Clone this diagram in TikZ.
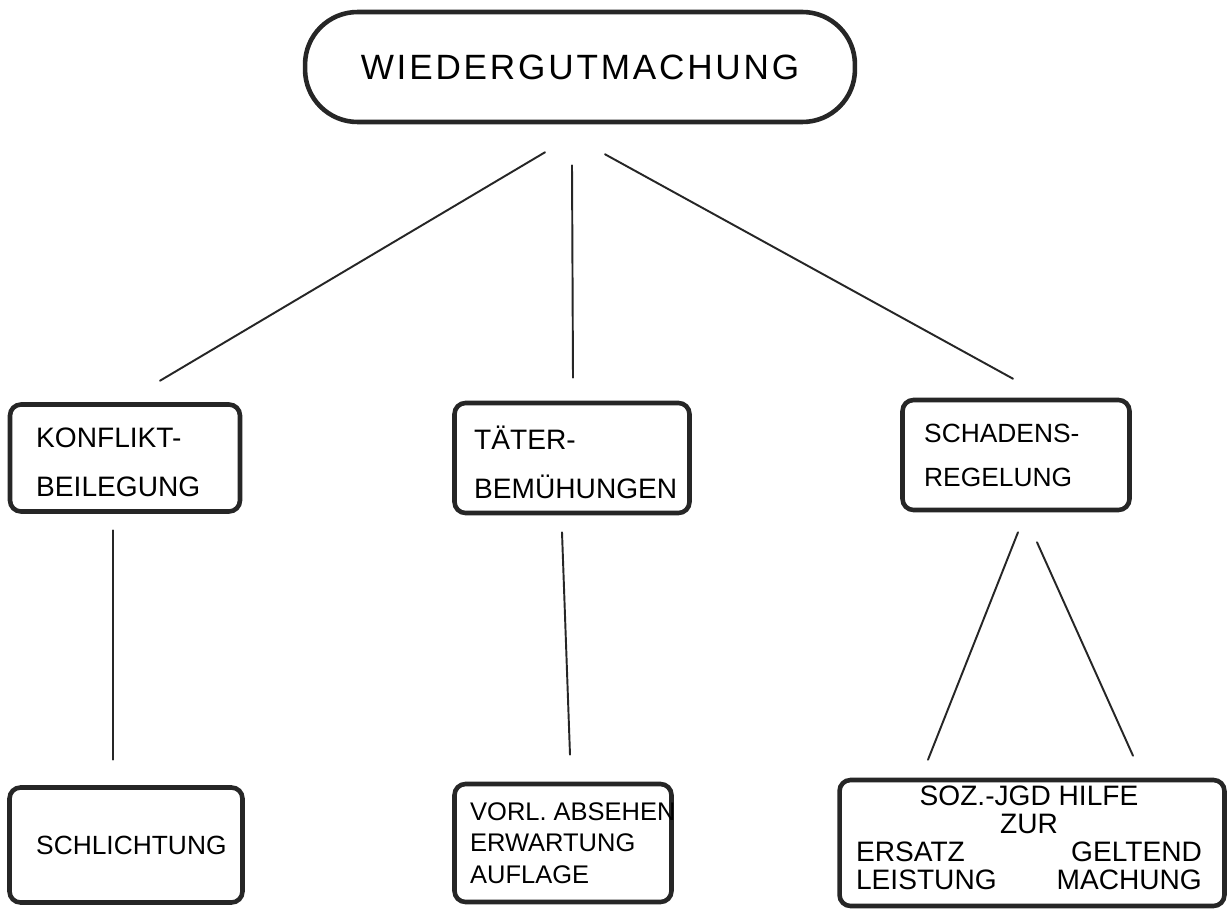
\documentclass[tikz,border=0pt]{standalone}
\usepackage{fontspec}
\setmainfont{Liberation Sans}
\usetikzlibrary{calc}
\begin{document}
\begin{tikzpicture}[x=0.02cm,y=-0.02cm,
  box/.style={draw=black!85,line width=2.6pt,rounded corners=0.22cm,inner sep=0pt},
  conn/.style={draw=black!85,line width=1.1pt,line cap=round},
  lbl/.style={font=\fontsize{16}{19}\selectfont,align=left}]
\fill[white] (0,0) rectangle (1228,909);
\useasboundingbox (0,0) rectangle (1228,909);
% top
\node[box,rounded corners=1.05cm,minimum width=11cm,minimum height=2.2cm,
  font=\fontsize{20}{24}\selectfont] (top) at (580,67) {\addfontfeatures{LetterSpace=8}WIEDERGUTMACHUNG\hspace{10pt}};
% middle row
\node[box,minimum width=4.6cm,minimum height=2.14cm] (kon) at (125,458) {};
\node[lbl,anchor=west] (konT) at (30,462) {KONFLIKT-\\[9pt]BEILEGUNG};
\node[box,minimum width=4.7cm,minimum height=2.2cm] (tat) at (572,458) {};
\node[lbl,anchor=west] (tatT) at (468,462) {TÄTER-\\[9pt]BEMÜHUNGEN};
\node[box,minimum width=4.54cm,minimum height=2.2cm] (sch) at (1016,455) {};
\node[lbl,anchor=west,font=\fontsize{15}{19}\selectfont] (schT) at (918,455) {SCHADENS-\\[6pt]REGELUNG};
% bottom row
\node[box,minimum width=4.66cm,minimum height=2.3cm] (schl) at (126,845) {};
\node[lbl,anchor=west,font=\fontsize{15}{19}\selectfont] (schlT) at (30,845) {SCHLICHTUNG};
\node[box,minimum width=4.34cm,minimum height=2.36cm] (vorl) at (563,843) {};
\node[lbl,anchor=west,font=\fontsize{14.5}{18}\selectfont] (vorlT) at (464,843) {VORL. ABSEHEN\\ERWARTUNG\\AUFLAGE};
\node[box,minimum width=7.7cm,minimum height=2.52cm] (soz) at (1032,843) {};
\node[font=\fontsize{16}{16}\selectfont] (sozT) at (1029,842) {%
  \begin{tabular}{@{}l@{\hspace{1.2cm}}r@{}}
  \multicolumn{2}{c}{SOZ.-JGD HILFE}\\
  \multicolumn{2}{c}{ZUR}\\
  ERSATZ & GELTEND\\
  LEISTUNG & MACHUNG
  \end{tabular}};
% connectors
\draw[conn] ($(top.south)+(-35,28)$) -- ($(kon.north)+(35,-21.5)$);
\draw[conn] ($(top.south)+(-8,41)$) -- ($(tat.north)+(1,-23)$);
\draw[conn] ($(top.south)+(25,30)$) -- ($(sch.north)+(-3,-19)$);
\draw[conn] ($(kon.south)+(-12,16.5)$) -- ($(schl.north)+(-13,-25.5)$);
\draw[conn] ($(tat.south)+(-10,17)$) -- ($(vorl.north)+(7,-27)$);
\draw[conn] ($(sch.south)+(2,20)$) -- ($(soz.north)+(-104,-18)$);
\draw[conn] ($(sch.south)+(21,30)$) -- ($(soz.north)+(101,-22)$);
\end{tikzpicture}
\end{document}
